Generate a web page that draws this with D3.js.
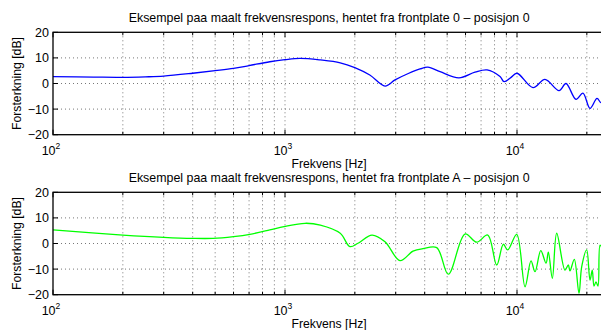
<!DOCTYPE html>
<html>
<head>
<meta charset="utf-8">
<script src="https://cdn.jsdelivr.net/npm/d3@7"></script>
<style>
  body { margin: 0; background: #fff; }
  svg { display: block; }
  text { font-family: "Liberation Sans", Arial, Helvetica, sans-serif; fill: #000; }
</style>
</head>
<body>
<div id="chart"></div>
<script>
// measured response, front plate 0 (Hz / dB)
const topFreq = [100, 150, 200, 250, 300, 400, 500, 600, 700, 860, 1000, 1160, 1420, 1730, 2000, 2320, 2700, 2980, 3400, 3820, 4130, 4660, 5620, 6590, 7430, 8450, 8800, 9400, 10000, 11720, 13200, 15180, 16260, 17960, 19240, 20640, 22130, 23010, 24000];
const topGain = [2.7, 2.5, 2.4, 2.6, 2.9, 4.0, 5.0, 5.9, 7.0, 8.5, 9.3, 9.8, 9.2, 8.1, 6.2, 3.3, -1.0, 1.4, 3.9, 5.7, 6.4, 4.6, 2.2, 4.4, 5.3, 2.7, 0.7, 2.3, 4.0, -1.6, 1.6, -2.8, 0.0, -6.2, -3.8, -9.7, -5.8, -7.5, -7.0];

// measured response, front plate A
const botFreq = [100, 200, 300, 400, 490, 600, 706, 860, 990, 1220, 1420, 1730, 1905, 2064, 2371, 2698, 3131, 3562, 3933, 4507, 5058, 5969, 6706, 7477, 8177, 8730, 9120, 9970, 10830, 11490, 11960, 12660, 13340, 13650, 14200, 14830, 16100, 16640, 16920, 17660, 18500, 19010, 19970, 20640, 21110, 21470, 21900, 22340, 22800, 23500, 24000];
const botGain = [5.3, 3.3, 2.4, 2.0, 2.0, 2.7, 3.6, 5.3, 6.6, 7.9, 7.2, 4.0, -1.2, 0.1, 3.3, 0.7, -6.7, -3.0, -2.0, -1.6, -12.0, 3.7, 0.5, 3.3, -8.4, -0.3, -2.5, 3.6, -16.9, -6.8, -11.0, -2.8, -7.7, -3.4, -13.6, 4.0, -10.4, -8.4, -10.7, -6.2, -19.5, -9.0, -2.5, -14.3, -10.4, -16.6, -15.0, -16.6, -0.6, -3.0, -5.0];

const yTicks = [-20, -10, 0, 10, 20];
const xDecades = [2, 3, 4];
const xDomain = [100, 24000];

const panels = [
  { title: "Eksempel paa maalt frekvensrespons, hentet fra frontplate 0 \u2013 posisjon 0", freq: topFreq, gain: topGain, color: "#0000ff", top: 32.3 },
  { title: "Eksempel paa maalt frekvensrespons, hentet fra frontplate A \u2013 posisjon 0", freq: botFreq, gain: botGain, color: "#00ff00", top: 192.3 }
];

const W = 601, H = 330;
const left = 53, plotH = 102.4;
const plotW = 232 * Math.log10(xDomain[1] / xDomain[0]);

const svg = d3.select("#chart").append("svg").attr("width", W).attr("height", H);

// minor + major log ticks
const allTicks = [];
for (let e = 2; e <= 4; e++) {
  for (let m = 1; m <= 9; m++) {
    const v = m * Math.pow(10, e);
    if (v >= xDomain[0] && v <= xDomain[1]) allTicks.push(v);
  }
}

panels.forEach((p, i) => {
  const x = d3.scaleLog().domain(xDomain).range([left, left + plotW]);
  const y = d3.scaleLinear().domain([-20, 20]).range([p.top + plotH, p.top]);
  const g = svg.append("g");

  // grid
  g.selectAll("line.gx").data(allTicks.filter(v => v > xDomain[0])).enter().append("line")
    .attr("x1", d => x(d)).attr("x2", d => x(d))
    .attr("y1", p.top).attr("y2", p.top + plotH)
    .attr("stroke", "#555").attr("stroke-width", 0.8).attr("stroke-dasharray", "1,3");
  g.selectAll("line.gy").data(yTicks.filter(v => v > -20 && v < 20)).enter().append("line")
    .attr("x1", left).attr("x2", left + plotW)
    .attr("y1", d => y(d)).attr("y2", d => y(d))
    .attr("stroke", "#555").attr("stroke-width", 0.8).attr("stroke-dasharray", "1,3");

  // ticks (inward, top and bottom)
  g.selectAll("line.tb").data(allTicks).enter().append("line")
    .attr("x1", d => x(d)).attr("x2", d => x(d))
    .attr("y1", p.top + plotH).attr("y2", d => p.top + plotH - (Number.isInteger(Math.log10(d)) ? 5 : 3))
    .attr("stroke", "#000");
  g.selectAll("line.tt").data(allTicks).enter().append("line")
    .attr("x1", d => x(d)).attr("x2", d => x(d))
    .attr("y1", p.top).attr("y2", d => p.top + (Number.isInteger(Math.log10(d)) ? 5 : 3))
    .attr("stroke", "#000");
  g.selectAll("line.ty").data(yTicks).enter().append("line")
    .attr("x1", left).attr("x2", left + 5)
    .attr("y1", d => y(d)).attr("y2", d => y(d))
    .attr("stroke", "#000");

  // curve
  const clipId = "clip" + i;
  g.append("clipPath").attr("id", clipId).append("rect")
    .attr("x", left).attr("y", p.top).attr("width", plotW).attr("height", plotH);
  const line = d3.line()
    .x((d, k) => x(p.freq[k]))
    .y(d => y(d))
    .curve(d3.curveCatmullRom.alpha(0.5));
  g.append("path")
    .attr("d", line(p.gain))
    .attr("clip-path", `url(#${clipId})`)
    .attr("fill", "none").attr("stroke", p.color).attr("stroke-width", 1.3);

  // box
  g.append("rect").attr("x", left).attr("y", p.top).attr("width", plotW).attr("height", plotH)
    .attr("fill", "none").attr("stroke", "#000").attr("stroke-width", 1.3);

  // y tick labels
  g.selectAll("text.yl").data(yTicks).enter().append("text")
    .attr("x", left - 4).attr("y", d => y(d) + 4.5)
    .attr("text-anchor", "end").attr("font-size", 12.5)
    .text(d => d < 0 ? "\u2212" + Math.abs(d) : d);

  // x tick labels 10^n
  xDecades.forEach(e => {
    const t = g.append("text")
      .attr("x", x(Math.pow(10, e)) - 2).attr("y", p.top + plotH + 20)
      .attr("text-anchor", "middle").attr("font-size", 12.5);
    t.append("tspan").text("10");
    t.append("tspan").attr("dy", -5.5).attr("font-size", 8.5).text(e);
  });

  // title and labels
  const cx = left + plotW / 2;
  g.append("text").attr("x", cx).attr("y", p.top - 10.3)
    .attr("text-anchor", "middle").attr("font-size", 12.4).text(p.title);
  g.append("text").attr("x", cx).attr("y", p.top + plotH + 32.8)
    .attr("text-anchor", "middle").attr("font-size", 12.2).text("Frekvens [Hz]");
  g.append("text")
    .attr("transform", `translate(21,${p.top + plotH / 2}) rotate(-90)`)
    .attr("text-anchor", "middle").attr("font-size", 12.2).text("Forsterkning [dB]");
});
</script>
</body>
</html>
